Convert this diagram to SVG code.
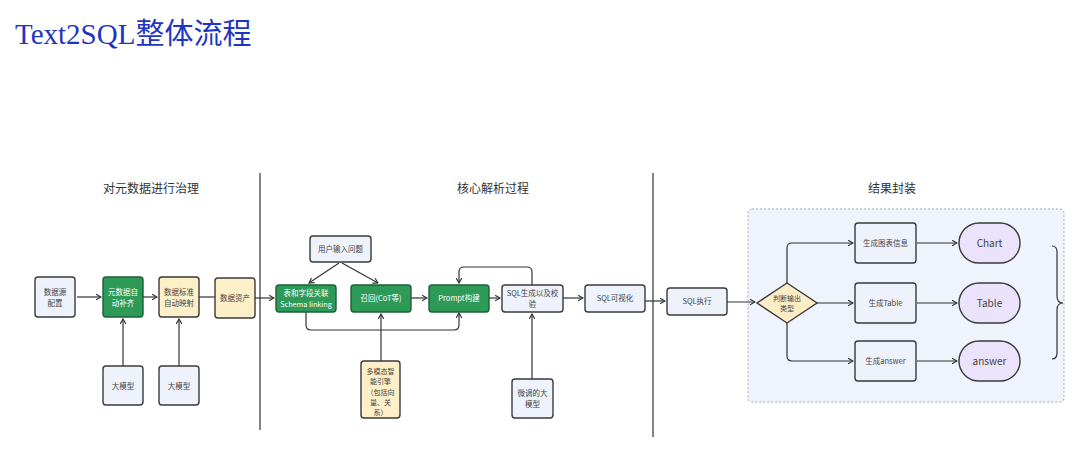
<svg xmlns="http://www.w3.org/2000/svg" width="1080" height="464" viewBox="0 0 1080 464">
<defs>
<marker id="arr" viewBox="0 0 10 10" refX="9" refY="5" markerWidth="7" markerHeight="7" orient="auto" markerUnits="userSpaceOnUse">
<polyline points="2,1 9,5 2,9" fill="none" stroke="#333" stroke-width="1.6"/>
</marker>
<style>
.box{stroke:#3a3a3a;stroke-width:1.4}
.blue{fill:#eef2fb}
.green{fill:#2e9a58;stroke:#1f5f38}
.yellow{fill:#fdefc8}
.purple{fill:#ebe3fb}
.white{fill:#eef2fb}
.t{font-family:"Noto Sans CJK SC","Liberation Sans",sans-serif;font-size:7.5px;fill:#444;text-anchor:middle}
.tw{fill:#ffffff}
.sec{font-family:"Noto Sans CJK SC","Liberation Sans",sans-serif;font-size:12px;fill:#333;text-anchor:middle}
.pill{font-family:"Noto Sans CJK SC","Liberation Sans",sans-serif;font-size:10px;fill:#444;text-anchor:middle}
.c{fill:none;stroke:#333;stroke-width:1.2}
.ca{fill:none;stroke:#333;stroke-width:1.2;marker-end:url(#arr)}
</style>
</defs>
<rect x="0" y="0" width="1080" height="464" fill="#ffffff"/>
<text x="15" y="44" font-family="Liberation Serif,'Noto Sans CJK SC',serif" font-size="29" fill="#1f35c2">Text2SQL整体流程</text>

<g id="dividers">
<line x1="260" y1="173" x2="260" y2="430" stroke="#444" stroke-width="1.3"/>
<line x1="653" y1="173" x2="653" y2="437" stroke="#444" stroke-width="1.3"/>
</g>
<g id="section-titles">
<text class="sec" x="151" y="193">对元数据进行治理</text>
<text class="sec" x="493" y="193">核心解析过程</text>
<text class="sec" x="892" y="193">结果封装</text>
</g>

<g id="container">
<rect x="748" y="209" width="316" height="193" rx="4" fill="#eff3fb" stroke="#a3aab8" stroke-width="1" stroke-dasharray="2,2"/>
</g>

<g id="connectors">
<path class="ca" d="M77,297 H101"/>
<path class="ca" d="M143,297 H157"/>
<path class="c" d="M199,297 H215"/>
<path class="ca" d="M255,298 H274"/>
<path class="ca" d="M123,366 V319"/>
<path class="ca" d="M179,366 V319"/>
<path class="ca" d="M339,263 L309,283"/>
<path class="ca" d="M342,263 L378,283"/>
<path class="ca" d="M411,298 H427"/>
<path class="ca" d="M489,298 H500"/>
<path class="ca" d="M306,312 V325 Q306,330 311,330 H454 Q459,330 459,325 V313"/>
<path class="ca" d="M381,361 V314"/>
<path class="ca" d="M532,285 V272 Q532,267 527,267 H464 Q459,267 459,272 V283"/>
<path class="ca" d="M532,379 V314"/>
<path class="ca" d="M563,298 H583"/>
<path class="ca" d="M645,301 H665"/>
<path class="ca" d="M713,302 H755"/>
<path class="ca" d="M787,283 V248 Q787,243 792,243 H853"/>
<path class="ca" d="M817,303 H853"/>
<path class="ca" d="M787,323 V356 Q787,361 792,361 H853"/>
<path class="ca" d="M917,243 H957"/>
<path class="ca" d="M917,303 H957"/>
<path class="ca" d="M917,361 H957"/>
</g>

<g id="n-datasource">
<rect class="box blue" x="35" y="277" width="40" height="40" rx="3"/>
<text class="t" x="55" y="295">数据源</text>
<text class="t" x="55" y="306">配置</text>
</g>
<g id="n-meta">
<rect class="box green" x="103" y="277" width="40" height="40" rx="3"/>
<text class="t tw" x="123" y="295">元数据自</text>
<text class="t tw" x="123" y="306">动补齐</text>
</g>
<g id="n-std">
<rect class="box yellow" x="159" y="277" width="40" height="40" rx="3"/>
<text class="t" x="179" y="295">数据标准</text>
<text class="t" x="179" y="306">自动映射</text>
</g>
<g id="n-asset">
<rect class="box yellow" x="215" y="278" width="40" height="40" rx="3"/>
<text class="t" x="235" y="301">数据资产</text>
</g>
<g id="n-llm1">
<rect class="box blue" x="103" y="366" width="40" height="39" rx="3"/>
<text class="t" x="123" y="389">大模型</text>
</g>
<g id="n-llm2">
<rect class="box blue" x="159" y="366" width="40" height="39" rx="3"/>
<text class="t" x="179" y="389">大模型</text>
</g>

<g id="n-question">
<rect class="box blue" x="310" y="236" width="61" height="26" rx="3"/>
<text class="t" x="340.5" y="252">用户输入问题</text>
</g>
<g id="n-schema">
<rect class="box green" x="276" y="285" width="60" height="27" rx="3"/>
<text class="t tw" x="306" y="296">表和字段关联</text>
<text class="t tw" x="306" y="307" style="font-size:7.2px">Schema linking</text>
</g>
<g id="n-recall">
<rect class="box green" x="351" y="285" width="60" height="27" rx="3"/>
<text class="t tw" x="381" y="301">召回(CoT等)</text>
</g>
<g id="n-prompt">
<rect class="box green" x="429" y="285" width="60" height="27" rx="3"/>
<text class="t tw" x="459" y="301">Prompt构建</text>
</g>
<g id="n-sqlgen">
<rect class="box blue" x="502" y="285" width="61" height="27" rx="3"/>
<text class="t" x="532.5" y="296">SQL生成以及校</text>
<text class="t" x="532.5" y="307">验</text>
</g>
<g id="n-multimodal">
<rect class="box yellow" x="361" y="361" width="39" height="57" rx="3"/>
<text class="t" x="380.5" y="373.5" style="font-size:7px">多模态智</text>
<text class="t" x="380.5" y="384" style="font-size:7px">能引擎</text>
<text class="t" x="380.5" y="394.5" style="font-size:7px">（包括向</text>
<text class="t" x="380.5" y="405" style="font-size:7px">量、关</text>
<text class="t" x="380.5" y="415" style="font-size:7px">系）</text>
</g>
<g id="n-finetune">
<rect class="box blue" x="512" y="379" width="41" height="39" rx="3"/>
<text class="t" x="532.5" y="396">微调的大</text>
<text class="t" x="532.5" y="407">模型</text>
</g>
<g id="n-sqlvis">
<rect class="box blue" x="585" y="285" width="60" height="27" rx="3"/>
<text class="t" x="615" y="301">SQL可视化</text>
</g>

<g id="n-sqlexec">
<rect class="box blue" x="667" y="288" width="60" height="27" rx="3"/>
<text class="t" x="697" y="304">SQL执行</text>
</g>
<g id="n-decide">
<polygon class="box" points="787,283 817,303 787,323 757,303" fill="#fdedc6"/>
<text class="t" x="787" y="301" style="font-size:7px">判断输出</text>
<text class="t" x="787" y="311" style="font-size:7px">类型</text>
</g>
<g id="n-genchart">
<rect class="box white" x="855" y="223" width="61" height="40" rx="3"/>
<text class="t" x="885.5" y="246">生成图表信息</text>
</g>
<g id="n-gentable">
<rect class="box white" x="855" y="283" width="61" height="40" rx="3"/>
<text class="t" x="885.5" y="306">生成Table</text>
</g>
<g id="n-genanswer">
<rect class="box white" x="855" y="341" width="61" height="40" rx="3"/>
<text class="t" x="885.5" y="364">生成answer</text>
</g>
<g id="n-chart">
<rect class="box purple" x="959" y="223" width="61" height="40" rx="20"/>
<text class="pill" x="989.5" y="247">Chart</text>
</g>
<g id="n-table">
<rect class="box purple" x="959" y="283" width="61" height="40" rx="20"/>
<text class="pill" x="989.5" y="307">Table</text>
</g>
<g id="n-answer">
<rect class="box purple" x="959" y="341" width="61" height="40" rx="20"/>
<text class="pill" x="989.5" y="365">answer</text>
</g>
<g id="brace">
<path class="c" stroke-width="1.4" d="M1052,246 Q1057,246 1057,252 V296 Q1057,303 1063,303 Q1057,303 1057,310 V353 Q1057,359 1052,359"/>
</g>
</svg>
